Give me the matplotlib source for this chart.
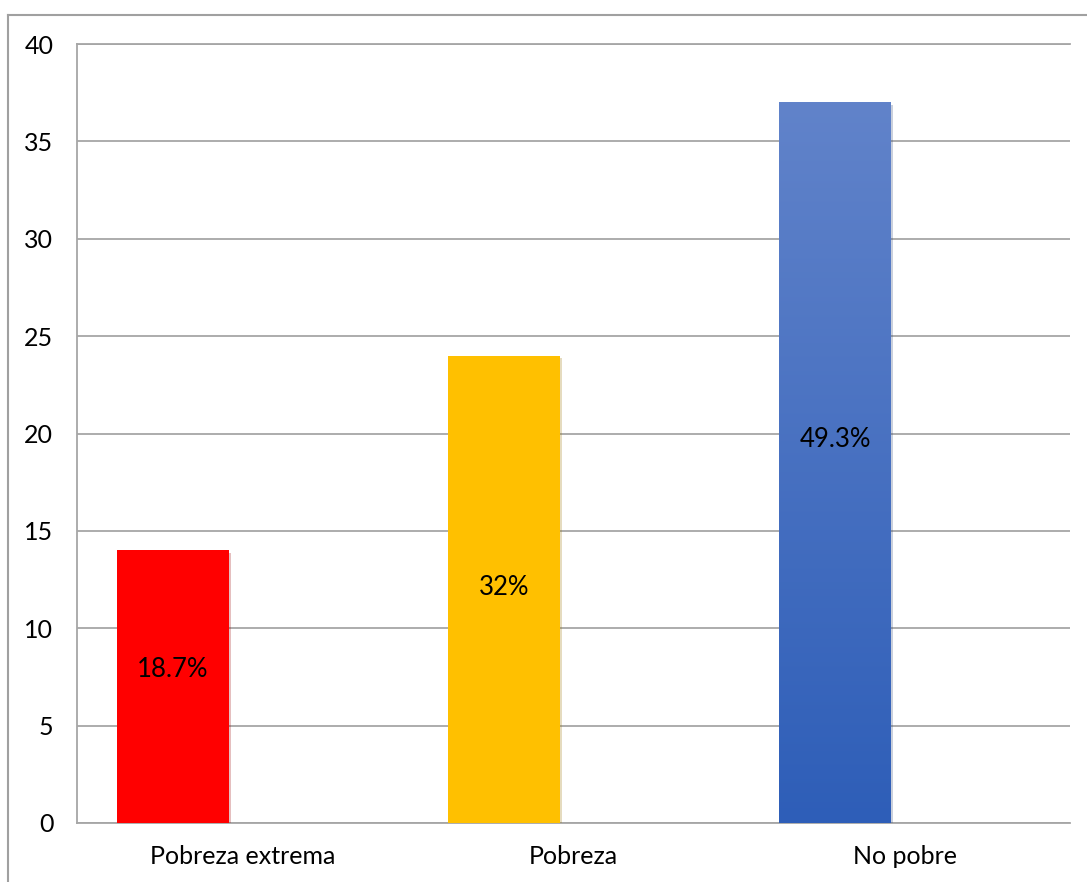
import matplotlib.pyplot as plt
import numpy as np
from matplotlib import patheffects
from matplotlib.colors import LinearSegmentedColormap
from matplotlib.lines import Line2D

categories = ["Pobreza extrema", "Pobreza", "No pobre"]
values = [14, 24, 37]
labels = ["18.7%", "32%", "49.3%"]

plt.rcParams["font.family"] = ["Lato", "DejaVu Sans"]

fig = plt.figure(figsize=(10.87, 8.82), dpi=100)
ax = fig.add_axes([0.0708, 0.0669, 0.9136, 0.8832])

x = np.arange(len(categories))
bar_x = x - 0.21
width = 0.336
colors = ["#FF0000", "#FFC000", "#4A72C2"]

shadow = [patheffects.SimplePatchShadow(offset=(2, -2), alpha=0.25, rho=0.6),
          patheffects.Normal()]
bars = ax.bar(bar_x, values, width=width, color=colors, zorder=3)
for b in bars:
    b.set_path_effects(shadow)

# gradient on the last bar
blue = bars[2]
cmap = LinearSegmentedColormap.from_list("blue_grad", ["#2E5EB8", "#6183CA"])
grad = np.linspace(0, 1, 256).reshape(-1, 1)
img = ax.imshow(grad, cmap=cmap, aspect="auto", origin="lower", zorder=4,
                extent=[blue.get_x(), blue.get_x() + width, 0, values[2]])
img.set_clip_path(blue)

# data labels
offsets = [0.9, 0.1, 1.2]
for bx, v, lab, off in zip(bar_x, values, labels, offsets):
    ax.text(bx, v / 2 + off, lab, ha="center", va="center", fontsize=18.5,
            color="black", zorder=5)

ax.set_xlim(-0.5, 2.5)
ax.set_ylim(0, 40)
ax.set_yticks(range(0, 41, 5))
ax.set_xticks(x)
ax.set_xticklabels(categories)
ax.tick_params(axis="both", length=0, labelsize=18, colors="black")
ax.tick_params(axis="y", pad=17)
ax.tick_params(axis="x", pad=16)

ax.grid(axis="y", color="#A6A6A6", linewidth=1.3, zorder=0)
ax.set_axisbelow(True)
ax.spines["right"].set_visible(False)
for side in ["left", "top", "bottom"]:
    ax.spines[side].set_color("#A6A6A6")
    ax.spines[side].set_linewidth(1.3)

# outer chart frame
fig.add_artist(Line2D([0.0074, 0.0074], [0, 0.983], color="#A0A0A0", lw=1.5))
fig.add_artist(Line2D([0.0074, 1], [0.983, 0.983], color="#A0A0A0", lw=1.5))

fig.savefig("out.png", dpi=100)
